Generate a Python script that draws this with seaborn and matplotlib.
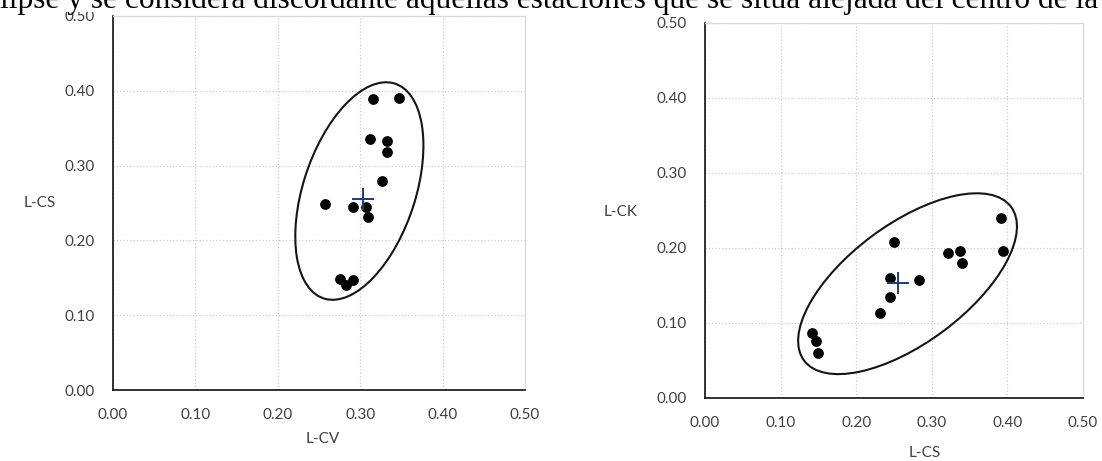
import matplotlib
matplotlib.use('Agg')
import matplotlib.pyplot as plt
from matplotlib.patches import Ellipse, Rectangle
import seaborn as sns

# --- datos ---
# panel izquierdo: L-CV vs L-CS
lcv_a = [0.315, 0.347, 0.312, 0.333, 0.333, 0.326, 0.257, 0.291, 0.307, 0.310, 0.276, 0.283, 0.291]
lcs_a = [0.389, 0.391, 0.336, 0.333, 0.318, 0.280, 0.248, 0.245, 0.245, 0.231, 0.149, 0.140, 0.147]
centro_a = [0.303, 0.255]
elipse_a_centro = [0.299, 0.266]
elipse_a_ejes = [0.300, 0.137]   # ancho, alto (unidades de datos)
elipse_a_angulo = 74.0

# panel derecho: L-CS vs L-CK
lcs_b = [0.392, 0.394, 0.250, 0.321, 0.338, 0.340, 0.245, 0.283, 0.245, 0.231, 0.141, 0.147, 0.149]
lck_b = [0.239, 0.195, 0.208, 0.193, 0.195, 0.180, 0.159, 0.157, 0.134, 0.113, 0.086, 0.075, 0.059]
centro_b = [0.256, 0.1525]
elipse_b_centro = [0.268, 0.152]
elipse_b_ejes = [0.342, 0.158]
elipse_b_angulo = 36.9

ticks = [0.0, 0.1, 0.2, 0.3, 0.4, 0.5]
tick_labels = ['0.00', '0.10', '0.20', '0.30', '0.40', '0.50']

texto_superior = 'lipse y se considera discordante aquellas estaciones que se sitúa alejada del centro de la'

sns.set_style('white')
plt.rcParams['font.family'] = ['Lato', 'DejaVu Sans']

fig = plt.figure(figsize=(11.02, 4.61), dpi=100)
ax1 = fig.add_axes([0.1025, 0.154, 0.3739, 0.8113])
ax2 = fig.add_axes([0.6397, 0.1373, 0.3430, 0.8135])


def panel(ax, x, y, centro, e_centro, e_ejes, e_ang, xlabel, ylabel, xlab_pos, ylab_pos):
    ax.add_patch(Ellipse(e_centro, e_ejes[0], e_ejes[1], angle=e_ang,
                         fill=False, edgecolor='#151515', linewidth=1.5, zorder=2))
    sns.scatterplot(x=x, y=y, ax=ax, color='black', s=60, linewidth=0, zorder=3)
    ax.plot(centro[0], centro[1], marker='+', markersize=16, markeredgewidth=1.4,
            color='#203a72', linestyle='none', zorder=4)

    ax.set_xlim(0, 0.5)
    ax.set_ylim(0, 0.5)
    ax.set_xticks(ticks)
    ax.set_xticklabels(tick_labels)
    ax.set_yticks(ticks)
    ax.set_yticklabels(tick_labels)
    ax.grid(True, color='#cccccc', linestyle=':', linewidth=0.9)
    ax.set_axisbelow(True)

    for s in ['left', 'bottom']:
        ax.spines[s].set_color('#111111')
        ax.spines[s].set_linewidth(1.2)
    for s in ['top', 'right']:
        ax.spines[s].set_color('#d9d9d9')
        ax.spines[s].set_linewidth(0.9)

    ax.tick_params(length=0, pad=13, labelsize=11, labelcolor='#404040')
    ax.set_xlabel(xlabel, fontsize=11, color='#404040')
    ax.set_ylabel(ylabel, fontsize=11, color='#404040', rotation=0, ha='center', va='center')
    ax.xaxis.set_label_coords(*xlab_pos)
    ax.yaxis.set_label_coords(*ylab_pos)
    ax.xaxis.label.set_va('center')


panel(ax1, lcv_a, lcs_a, centro_a, elipse_a_centro, elipse_a_ejes, elipse_a_angulo,
      'L-CV', 'L-CS', (0.509, -0.131), (-0.177, 0.5))
panel(ax2, lcs_b, lck_b, centro_b, elipse_b_centro, elipse_b_ejes, elipse_b_angulo,
      'L-CS', 'L-CK', (0.582, -0.147), (-0.222, 0.495))

# franja blanca del texto del documento que tapa la parte alta de la figura
fig.add_artist(Rectangle((0, 1 - 12 / 461), 1, 12 / 461, transform=fig.transFigure,
                         facecolor='white', edgecolor='none', zorder=5))
fig.text(0.0, 1 - 8 / 461, texto_superior, fontsize=22.6, family='Liberation Serif',
         color='black', ha='left', va='baseline', zorder=6)

fig.savefig('out.png', dpi=100)
